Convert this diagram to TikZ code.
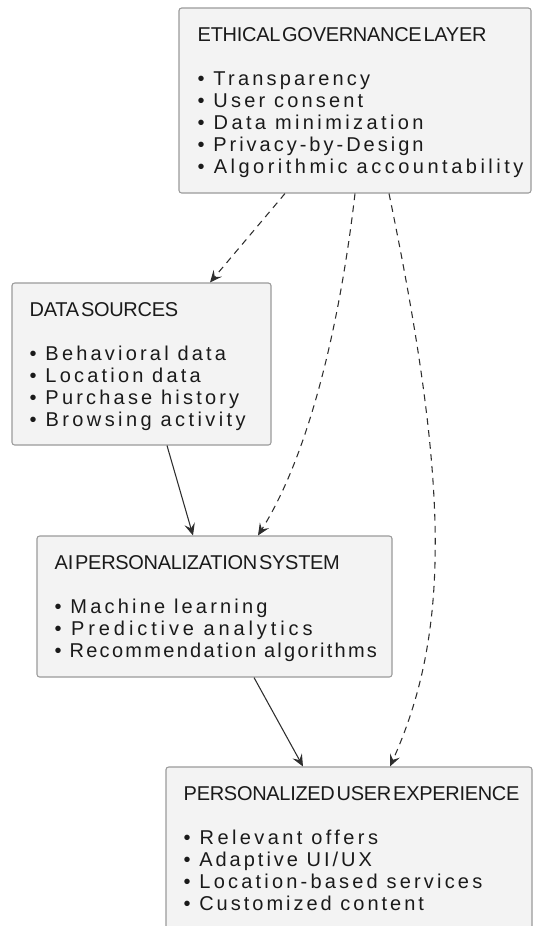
\documentclass[tikz,border=0pt]{standalone}
\usepackage{fontspec}
\usepackage{tikz}
\usetikzlibrary{calc,fit,arrows.meta}
\newfontfamily\headfont[WordSpace=0.35, LetterSpace=-1.5]{Liberation Sans}
\newfontfamily\itemfont[LetterSpace=16]{Liberation Sans}
\definecolor{boxfill}{HTML}{F3F3F3}
\definecolor{boxline}{HTML}{9A9A9A}
\definecolor{inkgrey}{HTML}{1A1A1A}
\definecolor{wiregrey}{HTML}{2E2E2E}
\tikzset{
  layerbox/.style = {draw=boxline, line width=0.8pt, rounded corners=2pt,
                     fill=boxfill, inner sep=0pt},
  headtxt/.style  = {anchor=base west, inner sep=0pt, text=inkgrey,
                     font=\headfont\fontsize{15}{17}\selectfont},
  itemtxt/.style  = {anchor=base west, inner sep=0pt, text=inkgrey,
                     font=\itemfont\fontsize{15}{17}\selectfont},
  feed/.style     = {-{Stealth[length=9pt, width=8pt, inset=3.5pt]},
                     draw=wiregrey, line width=0.8pt},
  govern/.style   = {feed, dash pattern=on 5pt off 4pt},
}

\begin{document}
\begin{tikzpicture}[x=0.75pt, y=-0.75pt]
    \useasboundingbox (0,0) rectangle (533,926);

    % ethics layer
    \node[layerbox, fit={(179,8) (531,193)}] (eth) {};
    \node[headtxt] (eth-t) at ($(eth.north west)+(19,34)$) {ETHICAL GOVERNANCE LAYER};
    \foreach \txt/\ls [count=\i] in {Transparency/16, User consent/16,
                                     Data minimization/17, Privacy-by-Design/15,
                                     Algorithmic accountability/17.5}
      \node[itemtxt] (eth-\i) at ($(eth.north west)+(19,56.5+22*\i)$)
        {\addfontfeature{LetterSpace=\ls}• \txt};

    % data sources
    \node[layerbox, fit={(12,283) (271,445)}] (src) {};
    \node[headtxt] (src-t) at ($(src.north west)+(18,34)$) {DATA SOURCES};
    \foreach \txt/\ls [count=\i] in {Behavioral data/16, Location data/16,
                                     Purchase history/16, Browsing activity/17}
      \node[itemtxt] (src-\i) at ($(src.north west)+(18,56.5+22*\i)$)
        {\addfontfeature{LetterSpace=\ls}• \txt};

    % ai system
    \node[layerbox, fit={(37,536) (392,677)}] (ai) {};
    \node[headtxt] (ai-t) at ($(ai.north west)+(18,34)$) {AI PERSONALIZATION SYSTEM};
    \foreach \txt/\ls [count=\i] in {Machine learning/16, Predictive analytics/19.5,
                                     Recommendation algorithms/11.5}
      \node[itemtxt] (ai-\i) at ($(ai.north west)+(18,56.5+22*\i)$)
        {\addfontfeature{LetterSpace=\ls}• \txt};

    % user experience
    \node[layerbox, fit={(166,767) (532,930)}] (pux) {};
    \node[headtxt] (pux-t) at ($(pux.north west)+(18,34)$) {PERSONALIZED USER EXPERIENCE};
    \foreach \txt/\ls [count=\i] in {Relevant offers/17, {Adaptive UI/UX}/15,
                                     Location-based services/16, Customized content/15}
      \node[itemtxt] (pux-\i) at ($(pux.north west)+(18,56.5+22*\i)$)
        {\addfontfeature{LetterSpace=\ls}• \txt};

    % data flow
    \draw[feed] ($(src.south)+(25.5,0)$) -- ($(ai.north)+(-21.5,0)$);
    \draw[feed] ($(ai.south)+(39.5,0)$) -- ($(pux.north)+(-46,0)$);

    % governance
    \draw[govern] ($(eth.south)+(-70,0)$) -- ($(src.north)+(68.5,0)$);
    \draw[govern] (eth.south) .. controls (340.6,319) and (310.5,452)
                  .. ($(ai.north)+(43.5,0)$);
    \draw[govern] ($(eth.south)+(34,0)$) .. controls (450,488) and (450,633)
                  .. ($(pux.north)+(41,0)$);
\end{tikzpicture}
\end{document}
